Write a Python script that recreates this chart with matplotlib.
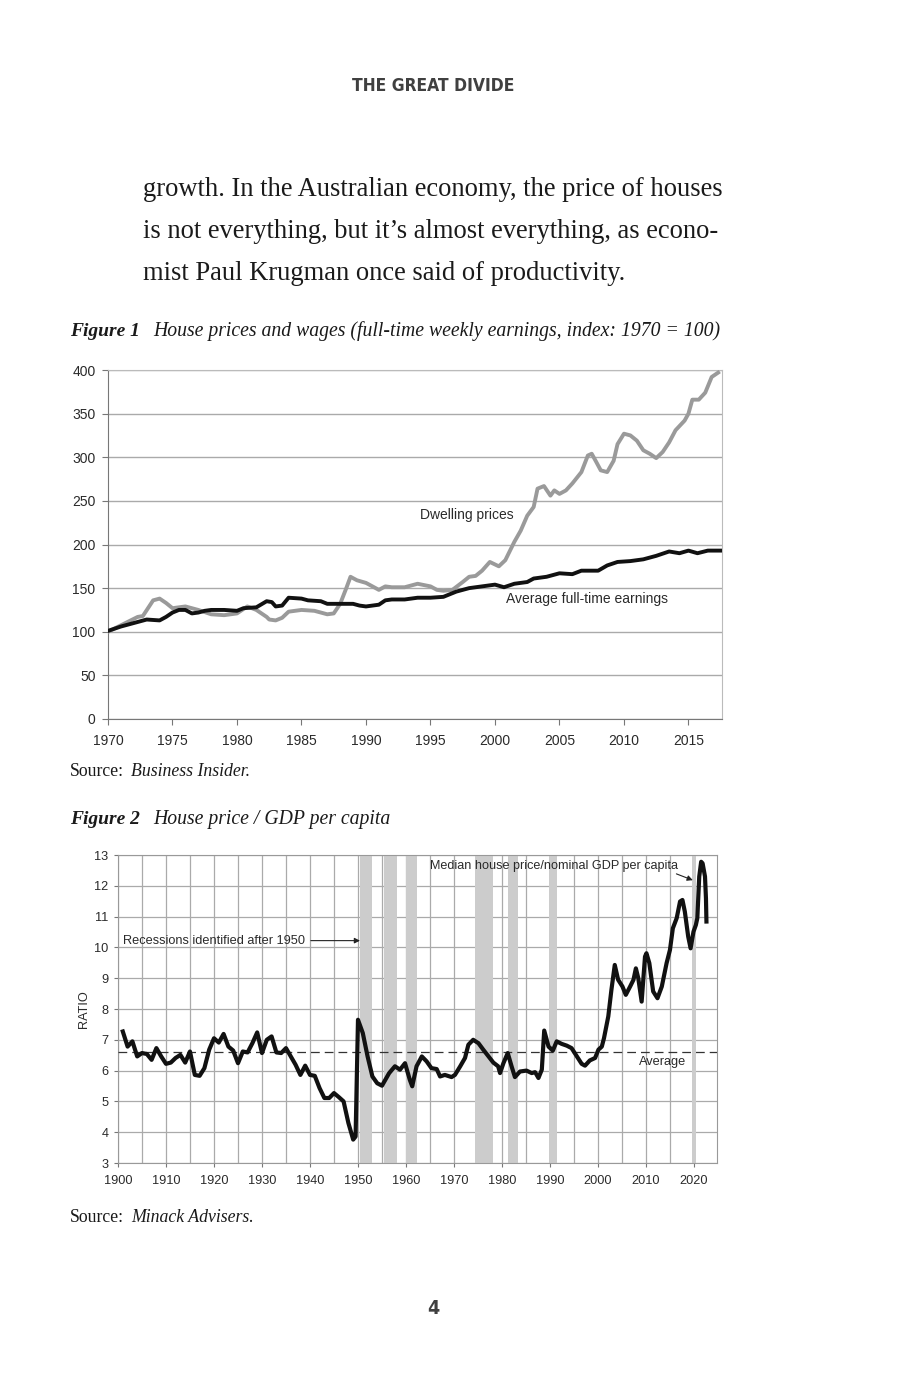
import matplotlib
matplotlib.use('Agg')
import matplotlib.pyplot as plt

W, H = 900, 1394

# ---------- Figure 1 data (index 1970 = 100) ----------
dwell_year = [1970, 1972.3, 1972.7, 1973.5, 1974, 1974.5, 1975, 1976, 1977, 1978, 1979, 1980,
              1980.8, 1981.5, 1982.3, 1982.5, 1983, 1983.5, 1984, 1985, 1986, 1987, 1987.5,
              1988, 1988.5, 1988.8, 1989.3, 1990, 1990.5, 1991, 1991.5, 1992, 1993, 1994,
              1995, 1995.5, 1996, 1996.7, 1997.5, 1998, 1998.5, 1999, 1999.6, 2000.3, 2000.8,
              2001.5, 2002, 2002.5, 2003, 2003.3, 2003.8, 2004.3, 2004.6, 2005, 2005.5, 2006,
              2006.7, 2007.2, 2007.5, 2007.8, 2008.2, 2008.7, 2009.2, 2009.5, 2010, 2010.5,
              2011, 2011.5, 2012, 2012.5, 2013, 2013.5, 2014, 2014.7, 2015, 2015.3, 2015.8,
              2016.3, 2016.8, 2017.3]
dwell_val = [100, 117, 118, 136, 138, 133, 127, 129, 125, 120, 119, 121,
             129, 125, 117, 114, 113, 116, 123, 125, 124, 120, 121,
             132, 151, 163, 159, 156, 152, 148, 152, 151, 151, 155,
             152, 148, 147, 148, 157, 163, 164, 170, 180, 175, 182,
             203, 216, 233, 243, 264, 267, 256, 262, 258, 262, 270,
             283, 302, 304, 296, 285, 283, 296, 315, 327, 325,
             319, 308, 304, 299, 306, 317, 331, 342, 350, 366, 366,
             374, 392, 397]

earn_year = [1970, 1971, 1972, 1972.5, 1973, 1974, 1974.5, 1975, 1975.5, 1976, 1976.5, 1977,
             1977.5, 1978, 1979, 1980, 1980.5, 1981.5, 1982.3, 1982.7, 1983, 1983.5, 1984,
             1985, 1985.5, 1986.5, 1987, 1988, 1989, 1989.5, 1990, 1991, 1991.5, 1992, 1993,
             1994, 1995, 1996, 1997, 1998, 1999, 2000, 2000.7, 2001.5, 2002.5, 2003, 2004,
             2005, 2006, 2006.7, 2008, 2008.7, 2009.5, 2010.5, 2011.5, 2012.5, 2013.5,
             2014.3, 2015, 2015.7, 2016.5, 2017.5]
earn_val = [101, 106, 110, 112, 114, 113, 117, 122, 125, 125, 121, 122,
            124, 125, 125, 124, 127, 128, 135, 134, 129, 130, 139,
            138, 136, 135, 132, 132, 132, 130, 129, 131, 136, 137, 137,
            139, 139, 140, 146, 150, 152, 154, 151, 155, 157, 161, 163,
            167, 166, 170, 170, 176, 180, 181, 183, 187, 192,
            190, 193, 190, 193, 193]

# ---------- Figure 2 data (house price / GDP per capita) ----------
ratio_year = [1901, 1902, 1903, 1904, 1905, 1906, 1907, 1908, 1909, 1910, 1911, 1912, 1913,
              1914, 1915, 1916, 1917, 1918, 1919, 1920, 1921, 1922, 1923, 1924, 1925, 1926,
              1927, 1928, 1929, 1930, 1931, 1932, 1933, 1934, 1935, 1936, 1937, 1938, 1939,
              1940, 1941, 1942, 1943, 1944, 1945, 1946, 1947, 1948, 1949, 1949.5, 1950,
              1951, 1952, 1953, 1954, 1955, 1956.5, 1957.7, 1958.75, 1959.8, 1960.8, 1961.3,
              1962.2, 1963.3, 1964.3, 1965.3, 1966.4, 1967.1, 1968.1, 1969.5, 1970.2, 1971.3,
              1972.3, 1973, 1974, 1975.1, 1976.1, 1977.2, 1978.2, 1979.2, 1979.6, 1980.3,
              1981.2, 1982, 1982.7, 1983.75, 1985.1, 1986.2, 1986.9, 1987.6, 1988.3, 1988.8,
              1989.7, 1990.6, 1991.4, 1992.4, 1993.5, 1994.5, 1995.6, 1996.6, 1997.3, 1998.3,
              1999.4, 2000.1, 2000.8, 2001.25, 2002.15, 2002.8, 2003.5, 2004.2, 2005.1,
              2005.8, 2006.7, 2007.4, 2007.9, 2008.4, 2009.1, 2009.8, 2010.1, 2010.7, 2011.5,
              2012.4, 2013.3, 2014.3, 2015, 2015.6, 2016.4, 2017.1, 2017.6, 2018.1, 2018.8,
              2019.3, 2019.9, 2020.4, 2020.7, 2021.1, 2021.5, 2021.8, 2022.3, 2022.5, 2022.6]
ratio_val = [7.27, 6.78, 6.95, 6.46, 6.57, 6.54, 6.35, 6.73, 6.46, 6.22, 6.26, 6.41, 6.51,
             6.26, 6.62, 5.86, 5.83, 6.08, 6.68, 7.05, 6.91, 7.19, 6.78, 6.65, 6.24, 6.62,
             6.59, 6.89, 7.24, 6.57, 7.0, 7.11, 6.59, 6.57, 6.73, 6.46, 6.19, 5.86, 6.16,
             5.86, 5.83, 5.43, 5.11, 5.11, 5.27, 5.14, 5.0, 4.30, 3.76, 3.86, 7.65,
             7.22, 6.46, 5.81, 5.59, 5.51, 5.92, 6.14, 6.03, 6.24, 5.70, 5.49,
             6.14, 6.46, 6.30, 6.08, 6.05, 5.81, 5.86, 5.79, 5.86, 6.14,
             6.41, 6.84, 7.0, 6.89, 6.68, 6.46, 6.26, 6.14, 5.92, 6.24,
             6.57, 6.14, 5.79, 5.97, 6.0, 5.92, 5.95, 5.76, 6.03, 7.30,
             6.78, 6.65, 6.95, 6.87, 6.81, 6.73, 6.46, 6.22, 6.16, 6.33,
             6.41, 6.68, 6.78, 7.05, 7.76, 8.62, 9.43, 8.95, 8.73,
             8.46, 8.73, 8.95, 9.32, 9.0, 8.24, 9.70, 9.81, 9.49, 8.57,
             8.35, 8.73, 9.49, 9.92, 10.62, 10.95, 11.49, 11.54, 11.16, 10.35,
             9.97, 10.51, 10.73, 10.95, 12.30, 12.78, 12.73, 12.30, 11.59, 10.84]
ratio_avg = 6.6

recessions = [(1950.5, 1952.9), (1955.5, 1958.1), (1960.1, 1962.2), (1974.3, 1978.1),
              (1981.2, 1983.3), (1989.8, 1991.4), (2019.5, 2020.5)]


def fx(x):
    return x / W


def fy(y):
    return 1 - y / H


fig = plt.figure(figsize=(9, 13.94), dpi=100)
fig.patch.set_facecolor('white')

# ---------- page text ----------
head = dict(family='DejaVu Sans', stretch='condensed', weight='bold', color='#404040')
fig.text(fx(433), fy(86), 'THE GREAT DIVIDE', ha='center', va='center', fontsize=12.5, **head)

body = ['growth. In the Australian economy, the price of houses',
        'is not everything, but it\u2019s almost everything, as econo-',
        'mist Paul Krugman once said of productivity.']
for i, line in enumerate(body):
    fig.text(fx(143), fy(196 + 42 * i), line, ha='left', va='baseline',
             family='Liberation Serif', fontsize=19.1, color='#1a1a1a')

cap_font = dict(family='Liberation Serif', style='italic', color='#1a1a1a')
fig.text(fx(70), fy(336), 'Figure 1', ha='left', va='baseline', weight='bold', fontsize=14, **cap_font)
fig.text(fx(153), fy(336), 'House prices and wages (full-time weekly earnings, index: 1970 = 100)',
         ha='left', va='baseline', fontsize=14.2, **cap_font)
fig.text(fx(70), fy(776), 'Source:', ha='left', va='baseline', family='Liberation Serif',
         fontsize=12.8, color='#1a1a1a')
fig.text(fx(131), fy(776), 'Business Insider.', ha='left', va='baseline', fontsize=12.8, **cap_font)

fig.text(fx(70), fy(824), 'Figure 2', ha='left', va='baseline', weight='bold', fontsize=14, **cap_font)
fig.text(fx(153), fy(824), 'House price / GDP per capita', ha='left', va='baseline', fontsize=14.2, **cap_font)
fig.text(fx(70), fy(1222), 'Source:', ha='left', va='baseline', family='Liberation Serif',
         fontsize=12.8, color='#1a1a1a')
fig.text(fx(131), fy(1222), 'Minack Advisers.', ha='left', va='baseline', fontsize=12.8, **cap_font)

fig.text(fx(433), fy(1309), '4', ha='center', va='center', fontsize=14, **head)

sans = 'Liberation Sans'
frame_col = '#999999'
txt_col = '#2a2a2a'

# ---------- Figure 1 ----------
ax1 = fig.add_axes([fx(108), fy(719), fx(722) - fx(108), fy(370) - fy(719)])
ax1.plot(dwell_year, dwell_val, color='#9a9a9a', lw=2.8, solid_joinstyle='round', zorder=3)
ax1.plot(earn_year, earn_val, color='#111111', lw=2.8, solid_joinstyle='round', zorder=4)
ax1.set_xlim(1970, 2017.6)
ax1.set_ylim(0, 400)
ax1.set_xticks(range(1970, 2016, 5))
ax1.set_yticks(range(0, 401, 50))
ax1.yaxis.grid(True, color='#aaaaaa', lw=1)
ax1.set_axisbelow(True)
for s in ax1.spines.values():
    s.set_color('#bbbbbb')
ax1.spines['left'].set_color('#777777')
ax1.spines['bottom'].set_color('#777777')
ax1.tick_params(length=4, color='#777777', labelsize=10, labelcolor=txt_col)
ax1.tick_params(axis='x', pad=7)
ax1.tick_params(axis='y', pad=5)
for lab in ax1.get_xticklabels() + ax1.get_yticklabels():
    lab.set_family(sans)
ax1.text(1997.8, 234, 'Dwelling prices', ha='center', va='center', family=sans, fontsize=10, color=txt_col)
ax1.text(2007.1, 138, 'Average full-time earnings', ha='center', va='center', family=sans,
         fontsize=10, color=txt_col)

# ---------- Figure 2 ----------
ax2 = fig.add_axes([fx(118), fy(1163), fx(717) - fx(118), fy(855) - fy(1163)])
for a, b in recessions:
    ax2.axvspan(a, b, color='#cccccc', lw=0, zorder=1)
ax2.plot(ratio_year, ratio_val, color='#111111', lw=3, solid_joinstyle='round', zorder=4)
ax2.axhline(ratio_avg, color='#333333', lw=0.9, ls=(0, (7, 4)), zorder=3)
ax2.set_xlim(1900, 2024.8)
ax2.set_ylim(3, 13)
ax2.set_xticks(range(1900, 2021, 10))
ax2.set_xticks(range(1905, 2025, 10), minor=True)
ax2.set_yticks(range(3, 14))
ax2.grid(True, which='both', color='#aaaaaa', lw=0.9, zorder=2)
ax2.set_axisbelow(True)
for s in ax2.spines.values():
    s.set_color(frame_col)
ax2.tick_params(which='both', length=3, color='#777777', labelsize=9.2, labelcolor=txt_col)
ax2.tick_params(axis='x', pad=6)
ax2.tick_params(axis='y', pad=4)
ax2.tick_params(which='minor', length=0)
for lab in ax2.get_xticklabels() + ax2.get_yticklabels():
    lab.set_family(sans)
ax2.set_ylabel('RATIO', family=sans, fontsize=9.2, color=txt_col, labelpad=3)
ax2.annotate('', xy=(1951, 10.22), xytext=(1939.6, 10.22),
             arrowprops=dict(arrowstyle='-|>', color='#222222', lw=0.8, mutation_scale=8), zorder=5)
ax2.text(1901, 10.22, 'Recessions identified after 1950', ha='left', va='center', family=sans,
         fontsize=9.2, color=txt_col, zorder=5)
ax2.annotate('', xy=(2020.3, 12.15), xytext=(2015.8, 12.42),
             arrowprops=dict(arrowstyle='-|>', color='#222222', lw=0.8, mutation_scale=8), zorder=5)
ax2.text(1965, 12.65, 'Median house price/nominal GDP per capita', ha='left', va='center', family=sans,
         fontsize=9.1, color=txt_col, zorder=5)
ax2.text(2013.4, 6.29, 'Average', ha='center', va='center', family=sans, fontsize=9.2,
         color=txt_col, zorder=5)

fig.savefig('out.png', dpi=100, facecolor='white')
